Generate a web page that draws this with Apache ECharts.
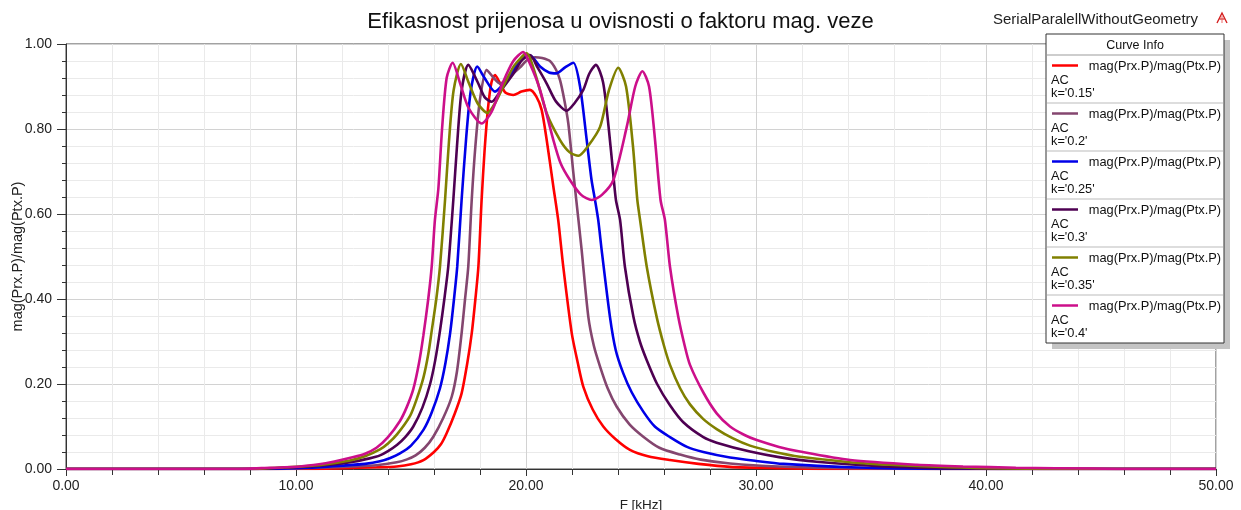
<!DOCTYPE html>
<html>
<head>
<meta charset="utf-8">
<script src="https://cdn.jsdelivr.net/npm/echarts@6/dist/echarts.min.js"></script>
<style>
html,body{margin:0;padding:0;background:#fff;}
#chart{width:1241px;height:510px;}
</style>
</head>
<body>
<div id="chart"></div>
<script>
// ---- data: [F (kHz), mag(Prx.P)/mag(Ptx.P)] ----
const seriesNames = ["k='0.15'", "k='0.2'", "k='0.25'", "k='0.3'", "k='0.35'", "k='0.4'"];
const seriesColors = ['#FF0000', '#84466F', '#0000E8', '#4E0052', '#808000', '#CC0F8A'];
const xTicks = [0, 10, 20, 30, 40, 50];
const yTicks = [0, 0.2, 0.4, 0.6, 0.8, 1.0];

const k015 = [[0,0],[10,0],[12,0.002],[13.5,0.004],[14.38,0.006],[15.0,0.011],[15.54,0.021],[16.0,0.04],[16.3,0.058],[16.55,0.084],[16.9,0.13],[17.2,0.178],[17.45,0.25],[17.64,0.319],[17.8,0.40],[17.93,0.476],[18.07,0.633],[18.2,0.75],[18.35,0.85],[18.5,0.91],[18.65,0.927],[18.85,0.91],[19.1,0.886],[19.45,0.88],[19.8,0.888],[20.17,0.892],[20.45,0.876],[20.68,0.845],[20.9,0.774],[21.19,0.664],[21.4,0.586],[21.62,0.476],[21.99,0.319],[22.25,0.25],[22.49,0.194],[22.9,0.14],[23.36,0.1],[23.9,0.07],[24.52,0.045],[25.3,0.03],[26.26,0.021],[27.5,0.012],[28.87,0.005],[31,0.002],[33,0],[50,0]];

const k020 = [[0,0],[9,0],[11,0.003],[12.5,0.006],[13.5,0.009],[14.38,0.016],[14.8,0.022],[15.2,0.032],[15.6,0.05],[15.97,0.076],[16.4,0.12],[16.77,0.17],[17.0,0.23],[17.2,0.319],[17.35,0.40],[17.49,0.476],[17.64,0.633],[17.8,0.76],[18.0,0.87],[18.29,0.939],[18.6,0.92],[18.87,0.907],[19.15,0.915],[19.45,0.931],[19.74,0.945],[20.05,0.962],[20.39,0.969],[20.7,0.967],[21.04,0.96],[21.3,0.94],[21.48,0.915],[21.66,0.87],[21.84,0.813],[22.06,0.696],[22.28,0.586],[22.42,0.515],[22.71,0.358],[22.95,0.29],[23.22,0.241],[23.55,0.19],[23.94,0.147],[24.5,0.105],[25.1,0.076],[25.8,0.05],[26.7,0.034],[27.6,0.022],[28.87,0.013],[31,0.006],[34,0.002],[38,0],[50,0]];

const k025 = [[0,0],[8.5,0],[10.5,0.003],[12,0.008],[13,0.012],[13.65,0.018],[14.1,0.026],[14.5,0.036],[15.0,0.055],[15.54,0.092],[15.9,0.133],[16.26,0.19],[16.5,0.25],[16.7,0.319],[16.87,0.40],[17.01,0.476],[17.2,0.633],[17.4,0.78],[17.6,0.89],[17.88,0.947],[18.2,0.92],[18.65,0.888],[19.0,0.905],[19.45,0.939],[19.8,0.965],[20.15,0.974],[20.61,0.947],[21.0,0.933],[21.33,0.931],[21.7,0.945],[22.06,0.956],[22.35,0.9],[22.64,0.774],[22.85,0.68],[23.0,0.633],[23.14,0.586],[23.29,0.515],[23.65,0.358],[23.9,0.28],[24.23,0.225],[24.6,0.18],[25.1,0.135],[25.6,0.1],[26.26,0.075],[27.0,0.052],[27.71,0.04],[28.87,0.027],[30,0.019],[31.2,0.012],[34.1,0.004],[38,0],[50,0]];

const k030 = [[0,0],[8,0],[10,0.004],[11.5,0.01],[12.5,0.017],[13.2,0.025],[13.65,0.032],[14.0,0.042],[14.4,0.057],[14.75,0.075],[15.1,0.1],[15.5,0.145],[15.83,0.2],[16.05,0.255],[16.26,0.325],[16.45,0.40],[16.62,0.476],[16.84,0.633],[17.0,0.76],[17.2,0.89],[17.49,0.951],[17.9,0.91],[18.2,0.875],[18.51,0.864],[18.9,0.89],[19.45,0.93],[19.8,0.96],[20.17,0.974],[20.5,0.945],[20.9,0.907],[21.3,0.865],[21.77,0.843],[22.1,0.86],[22.49,0.892],[22.75,0.93],[23.04,0.951],[23.35,0.91],[23.6,0.8],[23.8,0.69],[23.91,0.633],[24.09,0.586],[24.3,0.476],[24.67,0.358],[24.95,0.3],[25.25,0.256],[25.7,0.2],[26.26,0.15],[26.84,0.11],[27.71,0.075],[28.29,0.062],[29.74,0.041],[31,0.028],[32.64,0.017],[35.54,0.006],[39,0.001],[42,0],[50,0]];

const k035 = [[0,0],[8,0],[9.5,0.004],[11,0.009],[12.35,0.02],[13.0,0.03],[13.65,0.046],[14.0,0.06],[14.4,0.082],[14.96,0.125],[15.25,0.165],[15.54,0.215],[15.75,0.27],[15.9,0.325],[16.1,0.40],[16.26,0.476],[16.48,0.633],[16.65,0.77],[16.85,0.89],[17.17,0.953],[17.5,0.91],[17.9,0.86],[18.32,0.838],[18.7,0.865],[19.1,0.91],[19.5,0.95],[20.03,0.978],[20.4,0.93],[20.9,0.837],[21.48,0.774],[21.9,0.745],[22.28,0.737],[22.7,0.76],[23.22,0.805],[23.6,0.89],[24.01,0.944],[24.35,0.9],[24.65,0.76],[24.84,0.633],[24.96,0.586],[25.25,0.476],[25.68,0.358],[26.0,0.29],[26.26,0.245],[26.7,0.19],[27.13,0.152],[27.7,0.118],[28.29,0.094],[29.0,0.072],[29.74,0.055],[30.8,0.04],[31.91,0.029],[34.81,0.013],[38.43,0.004],[41,0.001],[44,0],[50,0]];

const k040 = [[0,0],[7.5,0],[8.5,0.002],[10.17,0.006],[11.0,0.011],[11.62,0.017],[12.5,0.028],[13.0,0.036],[13.5,0.05],[14.0,0.075],[14.52,0.113],[14.81,0.145],[15.1,0.188],[15.35,0.25],[15.54,0.315],[15.75,0.40],[15.9,0.476],[16.04,0.586],[16.19,0.66],[16.35,0.8],[16.55,0.92],[16.81,0.956],[17.15,0.905],[17.5,0.85],[18.07,0.813],[18.5,0.84],[19.0,0.91],[19.45,0.96],[19.88,0.981],[20.2,0.95],[20.61,0.892],[21.19,0.774],[21.5,0.72],[21.91,0.68],[22.4,0.645],[22.86,0.633],[23.3,0.645],[23.8,0.68],[24.38,0.805],[24.75,0.9],[25.06,0.936],[25.35,0.9],[25.6,0.78],[25.85,0.633],[26.04,0.586],[26.26,0.476],[26.62,0.358],[26.9,0.29],[27.13,0.245],[27.71,0.18],[28.29,0.131],[28.87,0.1],[29.5,0.08],[30.03,0.068],[31.0,0.052],[31.91,0.041],[34.09,0.021],[36.99,0.01],[39,0.006],[41.3,0.003],[44.7,0.001],[46,0],[50,0]];

const seriesData = [k015, k020, k025, k030, k035, k040];
const legendHeader = 'Curve Info';
const legendExpr = 'mag(Prx.P)/mag(Ptx.P)';
const legendSub = 'AC';

const FONT = "'Liberation Sans', Arial, sans-serif";
const chart = echarts.init(document.getElementById('chart'), null, {renderer: 'canvas'});

// legend (Curve Info box) as graphic
const LX = 1046, LY = 34, LW = 178, HEAD = 21, ROW = 48;
const LH = HEAD + ROW * seriesNames.length;
const g = [];
g.push({type:'rect', z:100, shape:{x:LX+6, y:LY+6, width:LW, height:LH}, style:{fill:'#C4C4C4'}});
g.push({type:'rect', z:101, shape:{x:LX, y:LY, width:LW, height:LH}, style:{fill:'#fff', stroke:'#333', lineWidth:1}});
g.push({type:'text', z:102, style:{x:LX+LW/2, y:LY+HEAD/2+1, text:legendHeader, font:'12.5px '+FONT, fill:'#111', textAlign:'center', textVerticalAlign:'middle'}});
seriesNames.forEach((nm, i) => {
  const top = LY + HEAD + i*ROW;
  g.push({type:'line', z:102, shape:{x1:LX+1, y1:top, x2:LX+LW-1, y2:top}, style:{stroke: i===0 ? '#BDBDBD' : '#D2D2D2', lineWidth:1.5}});
  g.push({type:'line', z:102, shape:{x1:LX+6, y1:top+10.5, x2:LX+32, y2:top+10.5}, style:{stroke:seriesColors[i], lineWidth:2.5}});
  g.push({type:'text', z:102, style:{x:LX+LW-3, y:top+11.5, text:legendExpr, font:'12.8px '+FONT, fill:'#111', textAlign:'right', textVerticalAlign:'middle'}});
  g.push({type:'text', z:102, style:{x:LX+5, y:top+25.5, text:legendSub, font:'12.8px '+FONT, fill:'#111', textAlign:'left', textVerticalAlign:'middle'}});
  g.push({type:'text', z:102, style:{x:LX+5, y:top+38.5, text:nm, font:'12.8px '+FONT, fill:'#111', textAlign:'left', textVerticalAlign:'middle'}});
});
// project name + logo
g.push({type:'text', z:102, style:{x:993, y:20, text:'SerialParalellWithoutGeometry', font:'15px '+FONT, fill:'#222', textAlign:'left', textVerticalAlign:'middle'}});
g.push({type:'polyline', z:102, shape:{points:[[1217,23],[1222,13],[1227,23]]}, style:{stroke:'#D42020', lineWidth:1.4, fill:null}});
g.push({type:'line', z:102, shape:{x1:1219.5, y1:19, x2:1224.5, y2:19}, style:{stroke:'#D42020', lineWidth:1.2}});
g.push({type:'line', z:102, shape:{x1:1222, y1:16, x2:1222, y2:23}, style:{stroke:'#E66', lineWidth:1}});

const option = {
  animation: false,
  backgroundColor: '#fff',
  title: {
    text: 'Efikasnost prijenosa u ovisnosti o faktoru mag. veze',
    left: 'center', top: 6,
    textStyle: {fontFamily: FONT, fontSize: 22, fontWeight: 'normal', color: '#111'}
  },
  grid: {left: 66, right: 25, top: 44, bottom: 41, show: true, borderColor: '#444', borderWidth: 1, containLabel: false, outerBoundsMode: 'none'},
  xAxis: {
    type: 'value', min: xTicks[0], max: xTicks[xTicks.length-1], interval: 10,
    name: 'F [kHz]', nameLocation: 'middle', nameGap: 29, nameMoveOverlap: false,
    nameTextStyle: {fontFamily: FONT, fontSize: 13.5, color: '#222'},
    axisLine: {show: true, lineStyle: {color: '#333', width: 1}},
    axisTick: {show: true, length: 7, lineStyle: {color: '#333'}},
    minorTick: {show: true, splitNumber: 5, length: 6, lineStyle: {color: '#333'}},
    axisLabel: {margin: 10, fontFamily: FONT, fontSize: 14, color: '#222', formatter: v => v.toFixed(2)},
    splitLine: {show: true, lineStyle: {color: '#D2D2D2', width: 1}},
    minorSplitLine: {show: true, lineStyle: {color: '#EAEAEA', width: 1}}
  },
  yAxis: {
    type: 'value', min: yTicks[0], max: yTicks[yTicks.length-1], interval: 0.2,
    name: 'mag(Prx.P)/mag(Ptx.P)', nameLocation: 'middle', nameGap: 41, nameMoveOverlap: false,
    nameTextStyle: {fontFamily: FONT, fontSize: 14.5, color: '#222'},
    axisLine: {show: true, lineStyle: {color: '#333', width: 1}},
    axisTick: {show: true, length: 9, lineStyle: {color: '#333'}},
    minorTick: {show: true, splitNumber: 5, length: 4, lineStyle: {color: '#333'}},
    axisLabel: {margin: 14, fontFamily: FONT, fontSize: 14, color: '#222', formatter: v => v.toFixed(2)},
    splitLine: {show: true, lineStyle: {color: '#D2D2D2', width: 1}},
    minorSplitLine: {show: true, lineStyle: {color: '#EAEAEA', width: 1}}
  },
  series: seriesNames.map((nm, i) => ({
    name: nm, type: 'line', data: seriesData[i],
    showSymbol: false, smooth: 0.25,
    lineStyle: {color: seriesColors[i], width: 2.6},
    itemStyle: {color: seriesColors[i]},
    z: 2 + i
  })),
  graphic: g
};
chart.setOption(option);
</script>
</body>
</html>
